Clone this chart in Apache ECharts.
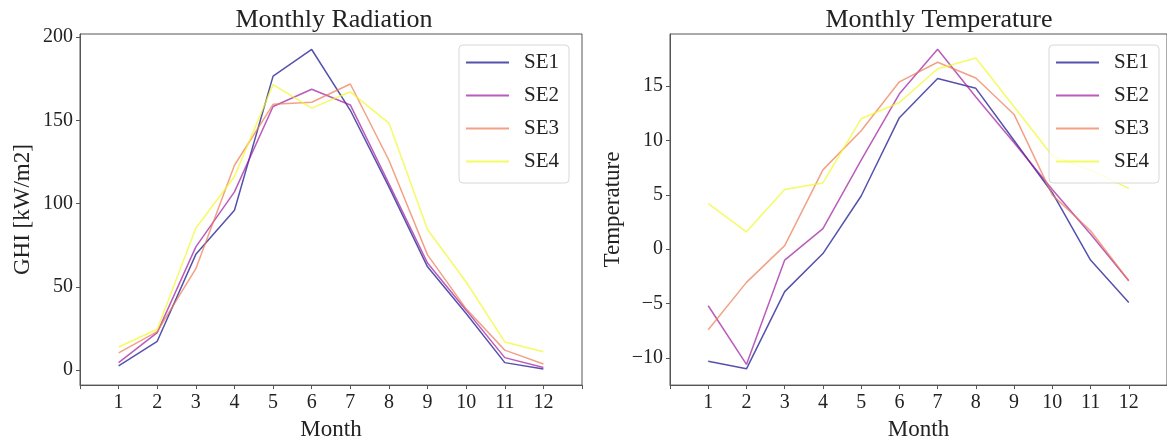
<!DOCTYPE html>
<html>
<head>
<meta charset="utf-8">
<script src="https://cdn.jsdelivr.net/npm/echarts@6/dist/echarts.min.js"></script>
<style>
  html, body { margin: 0; padding: 0; background: #fff; }
  #chart { width: 1167px; height: 446px; }
</style>
</head>
<body>
<div id="chart"></div>
<script>
// data
const months = [1, 2, 3, 4, 5, 6, 7, 8, 9, 10, 11, 12];
const seriesNames = ['SE1', 'SE2', 'SE3', 'SE4'];

const ghiSE1 = [2.6, 17.3, 69.5, 96, 176.5, 192.5, 156, 110, 62, 34, 4.5, 0.6];
const ghiSE2 = [4.5, 22.5, 74, 107, 158.3, 168.6, 159.2, 112, 64.3, 36, 7.5, 1.6];
const ghiSE3 = [10.4, 23.1, 60.9, 123, 159.6, 160.8, 171.8, 126, 69.2, 36.8, 12, 3.7];
const ghiSE4 = [13.9, 24.5, 85.2, 116.2, 171.4, 157.3, 167.1, 148.3, 84.4, 52.9, 16.9, 11];

const tempSE1 = [-10.3, -11.0, -3.9, -0.4, 4.9, 12.1, 15.7, 14.8, 10.0, 5.2, -1.0, -4.9];
const tempSE2 = [-5.2, -10.6, -1.0, 1.9, 8.2, 14.3, 18.4, 14.0, 9.8, 5.5, 1.4, -2.9];
const tempSE3 = [-7.4, -3.05, 0.33, 7.3, 10.9, 15.4, 17.2, 15.75, 12.4, 5.0, 1.7, -2.9];
const tempSE4 = [4.2, 1.6, 5.5, 6.1, 12.0, 13.5, 16.6, 17.6, 13.1, 8.6, 7.3, 5.6];

const ghiTicks = [0, 50, 100, 150, 200];
const tempTicks = [-10, -5, 0, 5, 10, 15];

// plasma colours, drawn with alpha 0.7
const colors = ['rgba(13,8,135,0.7)', 'rgba(156,23,158,0.7)', 'rgba(237,121,83,0.7)', 'rgba(240,249,33,0.7)'];

const FONT = 'Liberation Serif';
const AXIS_COLOR = '#555';
const TEXT_COLOR = '#222';

function pairs(vals) {
  return vals.map((v, i) => [months[i], v]);
}

function xAxisFor(gridIndex) {
  return {
    type: 'value', gridIndex: gridIndex,
    min: 0, max: 13, interval: 1,
    name: 'Month', nameLocation: 'middle', nameGap: 27,
    nameTextStyle: { fontFamily: FONT, fontSize: 23, color: TEXT_COLOR },
    axisLine: { show: true, onZero: false, lineStyle: { color: AXIS_COLOR, width: 1 } },
    axisTick: { show: true, length: 4, lineStyle: { color: AXIS_COLOR } },
    axisLabel: { customValues: months, margin: 8, fontFamily: FONT, fontSize: 20, color: TEXT_COLOR },
    splitLine: { show: false }
  };
}

function yAxisFor(gridIndex, name, min, max, ticks, gap) {
  return {
    type: 'value', gridIndex: gridIndex,
    min: min, max: max,
    name: name, nameLocation: 'middle', nameGap: gap,
    nameTextStyle: { fontFamily: FONT, fontSize: 23, color: TEXT_COLOR },
    axisLine: { show: true, onZero: false, lineStyle: { color: AXIS_COLOR, width: 1 } },
    axisTick: { show: true, length: 4, customValues: ticks, lineStyle: { color: AXIS_COLOR } },
    axisLabel: {
      customValues: ticks, margin: 7, fontFamily: FONT, fontSize: 20, color: TEXT_COLOR,
      formatter: v => (v < 0 ? '\u2212' + Math.abs(v) : '' + v)
    },
    splitLine: { show: false }
  };
}

function legendAt(left) {
  return {
    orient: 'vertical', left: left, top: 45,
    data: seriesNames,
    icon: 'rect', itemWidth: 43, itemHeight: 2, itemGap: 12,
    padding: [7, 10, 11, 7],
    backgroundColor: 'rgba(255,255,255,0.8)',
    borderColor: '#d8d8d8', borderWidth: 1, borderRadius: 4,
    textStyle: { fontFamily: FONT, fontSize: 21, color: TEXT_COLOR, lineHeight: 20, padding: [0, 0, 0, 10] }
  };
}

function lineSeries(name, vals, idx, axisIdx) {
  return {
    name: name, type: 'line',
    xAxisIndex: axisIdx, yAxisIndex: axisIdx,
    data: pairs(vals),
    showSymbol: false, symbol: 'none',
    lineStyle: { color: colors[idx], width: 1.5 },
    itemStyle: { color: colors[idx] }
  };
}

const chart = echarts.init(document.getElementById('chart'), null, { renderer: 'canvas' });
chart.setOption({
  animation: false,
  title: [
    { text: 'Monthly Radiation', left: 329, textAlign: 'center', top: 2,
      textStyle: { fontFamily: FONT, fontSize: 26, fontWeight: 'normal', color: TEXT_COLOR } },
    { text: 'Monthly Temperature', left: 934, textAlign: 'center', top: 2,
      textStyle: { fontFamily: FONT, fontSize: 26, fontWeight: 'normal', color: TEXT_COLOR } }
  ],
  legend: [legendAt(459), legendAt(1049)],
  grid: [
    { left: 80, top: 34, width: 502, height: 359, show: true, borderColor: AXIS_COLOR, borderWidth: 1 },
    { left: 670, top: 34, width: 502, height: 359, show: true, borderColor: AXIS_COLOR, borderWidth: 1 }
  ],
  xAxis: [xAxisFor(0), xAxisFor(1)],
  yAxis: [
    yAxisFor(0, 'GHI [kW/m2]', -9, 201.8, ghiTicks, 46),
    yAxisFor(1, 'Temperature', -12.5, 19.8, tempTicks, 46)
  ],
  series: [
    lineSeries('SE1', ghiSE1, 0, 0),
    lineSeries('SE2', ghiSE2, 1, 0),
    lineSeries('SE3', ghiSE3, 2, 0),
    lineSeries('SE4', ghiSE4, 3, 0),
    lineSeries('SE1', tempSE1, 0, 1),
    lineSeries('SE2', tempSE2, 1, 1),
    lineSeries('SE3', tempSE3, 2, 1),
    lineSeries('SE4', tempSE4, 3, 1)
  ]
});
</script>
</body>
</html>
